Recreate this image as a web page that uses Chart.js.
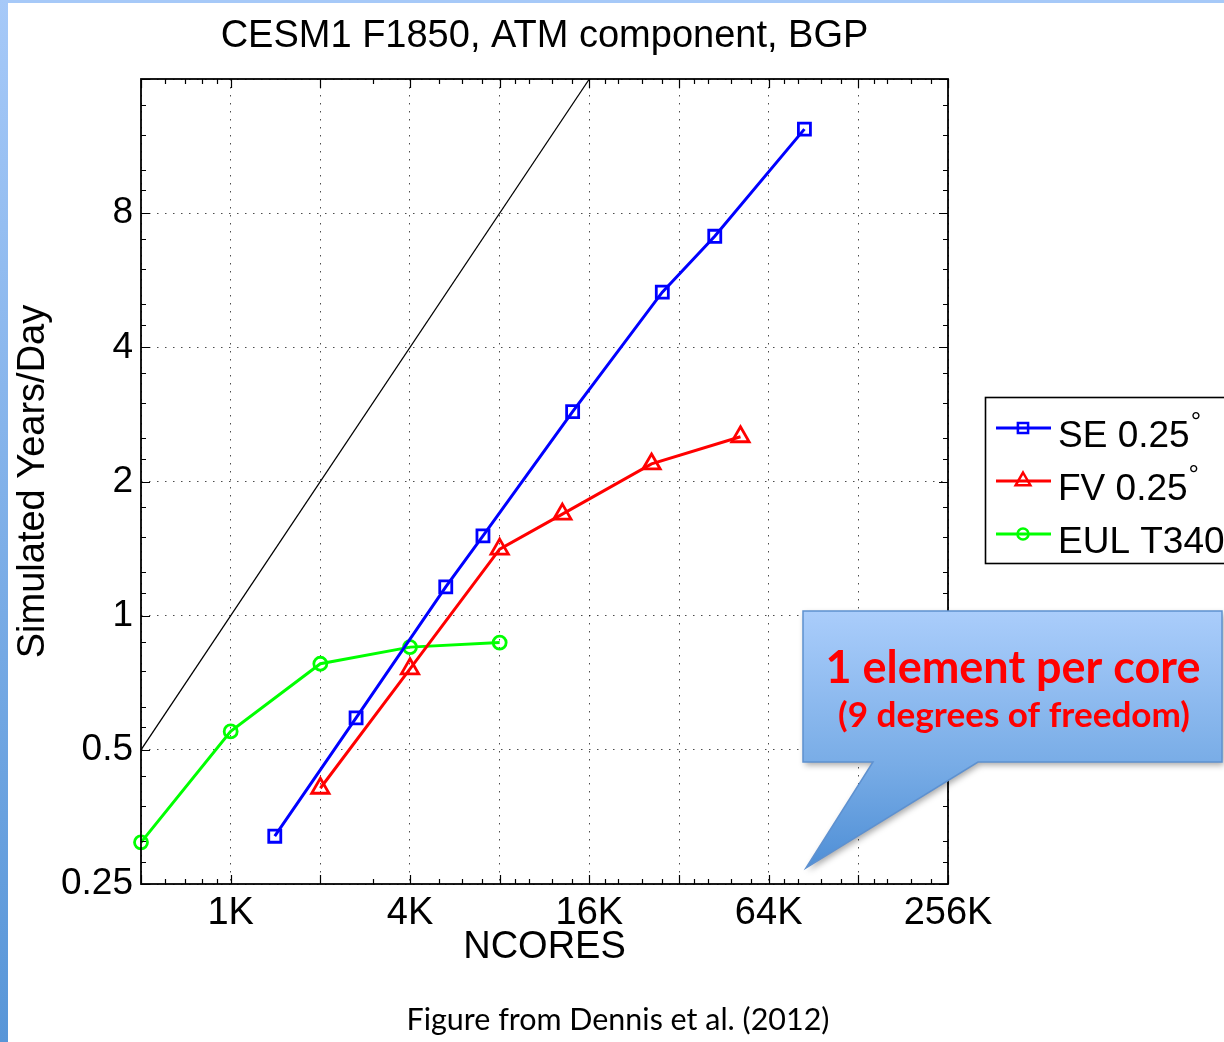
<!DOCTYPE html>
<html>
<head>
<meta charset="utf-8">
<script src="https://cdn.jsdelivr.net/npm/chart.js@4.4.1/dist/chart.umd.min.js"></script>
<style>
  html, body { margin: 0; padding: 0; background: #fff; }
  #wrap { position: relative; width: 1224px; height: 1042px; overflow: hidden; }
  #grafico { position: absolute; left: 0; top: 0; }
  #topband { position: absolute; left: 0; top: 0; width: 1224px; height: 3px; background: #a6c9f8; }
  #leftband { position: absolute; left: 0; top: 0; width: 8px; height: 1042px; background: linear-gradient(#a6c9f8, #5896d8); }
</style>
</head>
<body>
<div id="wrap">
  <canvas id="grafico" width="1224" height="1042"></canvas>
  <div id="topband"></div>
  <div id="leftband"></div>
</div>
<script>
// Escalabilidade CESM1 F1850 (ATM) no BGP
const seCores = [1440, 2700, 5400, 7200, 14400, 28800, 43200, 86400];
const seYears = [0.32, 0.59, 1.16, 1.51, 2.87, 5.32, 7.1, 12.35];
const fvCores = [2048, 4096, 8192, 13300, 26500, 52700];
const fvYears = [0.41, 0.76, 1.41, 1.69, 2.19, 2.52];
const eulCores = [512, 1024, 2048, 4096, 8192];
const eulYears = [0.31, 0.55, 0.78, 0.85, 0.87];
const idealCores = [512, 16384];
const idealYears = [0.5, 16];

const xTickValues = [512, 1024, 2048, 4096, 8192, 16384, 32768, 65536, 131072, 262144];
const xTickLabels = ['', '1K', '', '4K', '', '16K', '', '64K', '', '256K'];
const yTickValues = [0.25, 0.5, 1, 2, 4, 8, 16];
const yTickLabels = ['0.25', '0.5', '1', '2', '4', '8', ''];
const xMinorTicks = [614, 717, 819, 922, 3072, 5120, 6144, 7168, 9216, 10240, 12288, 14336,
  18432, 20480, 24576, 28672, 36864, 40960, 49152, 57344, 73728, 81920, 98304, 114688,
  147456, 163840, 196608, 229376];
const yMinorTicks = [0.28, 0.3125, 0.375, 0.4375, 0.5625, 0.625, 0.75, 0.875, 1.125, 1.25, 1.5, 1.75,
  2.25, 2.5, 3, 3.5, 4.5, 5, 6, 7, 9, 10, 12, 14];

const FONT = "'Liberation Sans', Arial, sans-serif";

function pontos(xs, ys) {
  return xs.map((x, i) => ({ x: x, y: ys[i] }));
}

function marcador(c, estilo, x, y, r, cor) {
  c.save();
  c.strokeStyle = cor;
  c.lineWidth = 2.5;
  c.beginPath();
  if (estilo === 'rect') {
    const s = r * Math.SQRT1_2;
    c.rect(x - s, y - s, 2 * s, 2 * s);
  } else if (estilo === 'triangle') {
    c.moveTo(x, y - r);
    c.lineTo(x + r * 0.866, y + r / 2);
    c.lineTo(x - r * 0.866, y + r / 2);
    c.closePath();
  } else {
    c.arc(x, y, r, 0, Math.PI * 2);
  }
  c.stroke();
  c.restore();
}

// texto ajustado a uma largura
function textoAjustado(c, txt, cx, base, largura, peso, familia, cor) {
  c.font = peso + ' 40px ' + familia;
  const w = c.measureText(txt).width;
  const tam = 40 * largura / w;
  c.font = peso + ' ' + tam.toFixed(2) + 'px ' + familia;
  c.fillStyle = cor;
  c.textAlign = 'center';
  c.textBaseline = 'alphabetic';
  c.fillText(txt, cx, base);
}

// caixa com ticks para dentro nos quatro lados (estilo Matlab)
const moldura = {
  id: 'moldura',
  afterDatasetsDraw(chart) {
    const c = chart.ctx;
    const a = chart.chartArea;
    const sx = chart.scales.x, sy = chart.scales.y;
    c.save();
    c.strokeStyle = '#000';
    c.lineWidth = 1.2;
    c.beginPath();
    const tx = (v, len) => {
      const p = Math.round(sx.getPixelForValue(v)) + 0.5;
      c.moveTo(p, a.bottom); c.lineTo(p, a.bottom - len);
      c.moveTo(p, a.top); c.lineTo(p, a.top + len);
    };
    const ty = (v, len) => {
      const p = Math.round(sy.getPixelForValue(v)) + 0.5;
      c.moveTo(a.left, p); c.lineTo(a.left + len, p);
      c.moveTo(a.right, p); c.lineTo(a.right - len, p);
    };
    xTickValues.forEach(v => tx(v, 9));
    xMinorTicks.forEach(v => tx(v, 5));
    yTickValues.forEach(v => ty(v, 9));
    yMinorTicks.forEach(v => ty(v, 5));
    c.stroke();
    c.lineWidth = 1.8;
    c.strokeRect(a.left, a.top, a.right - a.left, a.bottom - a.top);
    c.restore();
  }
};

const legenda = {
  id: 'legenda',
  afterDraw(chart) {
    const c = chart.ctx;
    c.save();
    c.fillStyle = '#fff';
    c.fillRect(985, 397, 260, 167);
    c.strokeStyle = '#000';
    c.lineWidth = 1.6;
    c.strokeRect(985.5, 397.5, 260, 166);
    chart.data.datasets.filter(d => d.label).forEach((d, i) => {
      const yy = 428 + i * 53;
      c.strokeStyle = d.borderColor;
      c.lineWidth = 3;
      c.beginPath();
      c.moveTo(996, yy); c.lineTo(1051, yy);
      c.stroke();
      marcador(c, d.pointStyle, 1023, yy, d.pointRadius * 0.85, d.borderColor);
      const partes = d.label.split('°');
      c.fillStyle = '#000';
      c.font = '37px ' + FONT;
      c.textAlign = 'left';
      c.textBaseline = 'alphabetic';
      c.fillText(partes[0], 1058, yy + 19);
      if (d.label.indexOf('°') >= 0) {
        const w = c.measureText(partes[0]).width;
        c.font = '26px ' + FONT;
        c.fillText('°', 1058 + w + 1, yy + 2);
      }
    });
    c.restore();
  }
};

const balao = {
  id: 'balao',
  afterDraw(chart) {
    const c = chart.ctx;
    c.save();
    const p = new Path2D();
    p.moveTo(803, 611); p.lineTo(1222, 611); p.lineTo(1222, 762); p.lineTo(978, 762);
    p.lineTo(806, 868); p.lineTo(873, 762); p.lineTo(803, 762); p.closePath();
    const g = c.createLinearGradient(0, 611, 0, 868);
    g.addColorStop(0, '#aacdfb');
    g.addColorStop(0.6, '#78ace6');
    g.addColorStop(1, '#4f8fd6');
    c.shadowColor = 'rgba(0,0,0,0.35)';
    c.shadowBlur = 6;
    c.shadowOffsetX = 2;
    c.shadowOffsetY = 3;
    c.fillStyle = g;
    c.fill(p);
    c.shadowColor = 'transparent';
    c.strokeStyle = '#5e91d0';
    c.lineWidth = 1.5;
    c.stroke(p);
    textoAjustado(c, '1 element per core', 1013, 683, 375, 'bold', 'Lato', '#ff0000');
    textoAjustado(c, '(9 degrees of freedom)', 1014, 727, 352, 'bold', 'Lato', '#ff0000');
    textoAjustado(c, 'Figure from Dennis et al. (2012)', 618, 1030, 423, 'normal', 'Lato', '#000');
    c.restore();
  }
};

const ctx = document.getElementById('grafico').getContext('2d');
const grafico = new Chart(ctx, {
  type: 'line',
  data: {
    datasets: [{
      label: 'SE 0.25°',
      data: pontos(seCores, seYears),
      borderColor: '#0000ff',
      backgroundColor: 'transparent',
      borderWidth: 3,
      pointStyle: 'rect',
      pointRadius: 8.5,
      pointBorderWidth: 2.8,
      pointBackgroundColor: 'transparent',
      clip: false
    }, {
      label: 'FV 0.25°',
      data: pontos(fvCores, fvYears),
      borderColor: '#ff0000',
      backgroundColor: 'transparent',
      borderWidth: 3,
      pointStyle: 'triangle',
      pointRadius: 10,
      pointBorderWidth: 2.8,
      pointBackgroundColor: 'transparent',
      clip: false
    }, {
      label: 'EUL T340',
      data: pontos(eulCores, eulYears),
      borderColor: '#00ff00',
      backgroundColor: 'transparent',
      borderWidth: 3,
      pointStyle: 'circle',
      pointRadius: 6.5,
      pointBorderWidth: 2.8,
      pointBackgroundColor: 'transparent',
      clip: false
    }, {
      label: '',
      data: pontos(idealCores, idealYears),
      borderColor: '#000',
      borderWidth: 1.3,
      pointRadius: 0,
      clip: false
    }]
  },
  options: {
    responsive: false,
    animation: false,
    events: [],
    layout: { padding: { left: 0, top: 0, right: 276, bottom: 75 } },
    scales: {
      x: {
        type: 'logarithmic',
        min: 512,
        max: 262144,
        afterBuildTicks: function(scale) {
          scale.ticks = xTickValues.map(v => ({ value: v }));
        },
        afterFit: function(scale) { scale.height = 83; },
        ticks: {
          autoSkip: false,
          maxRotation: 0,
          padding: 7,
          color: '#000',
          font: { family: FONT, size: 38, lineHeight: 1.2 },
          callback: function(value, index) { return xTickLabels[index]; }
        },
        grid: { color: 'rgba(0,0,0,0.7)', lineWidth: 1, drawTicks: false },
        border: { display: false, dash: [1.5, 6.5] },
        title: {
          display: true,
          text: 'NCORES',
          color: '#000',
          font: { family: FONT, size: 38, lineHeight: 1 },
          padding: { top: 0, bottom: 0 }
        }
      },
      y: {
        type: 'logarithmic',
        min: 0.25,
        max: 16,
        afterBuildTicks: function(scale) {
          scale.ticks = yTickValues.map(v => ({ value: v }));
        },
        afterFit: function(scale) { scale.width = 141; },
        ticks: {
          autoSkip: false,
          padding: 8,
          color: '#000',
          font: { family: FONT, size: 37, lineHeight: 1.2 },
          callback: function(value, index) { return yTickLabels[index]; }
        },
        grid: { color: 'rgba(0,0,0,0.7)', lineWidth: 1, drawTicks: false },
        border: { display: false, dash: [1.5, 6.5] },
        title: {
          display: true,
          text: 'Simulated Years/Day',
          color: '#000',
          font: { family: FONT, size: 38, lineHeight: 1 },
          padding: { top: 15, bottom: 0 }
        }
      }
    },
    plugins: {
      legend: { display: false },
      tooltip: { enabled: false },
      title: {
        display: true,
        fullSize: false,
        text: 'CESM1 F1850, ATM component, BGP',
        color: '#000',
        font: { family: FONT, size: 38, weight: 'normal', lineHeight: 1 },
        padding: { top: 18, bottom: 23 }
      }
    }
  },
  plugins: [moldura, legenda, balao]
});
</script>
</body>
</html>
